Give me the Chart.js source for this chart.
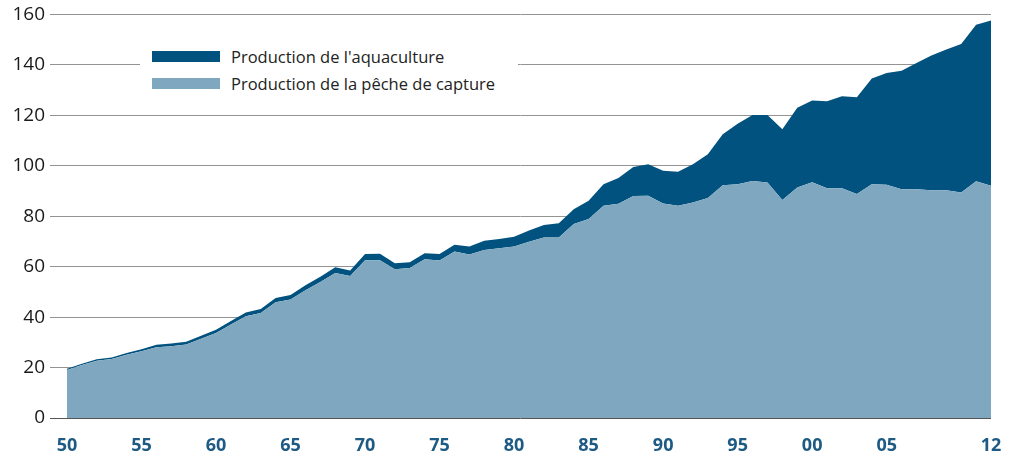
<!DOCTYPE html>
<html>
<head>
<meta charset="utf-8">
<script src="https://cdn.jsdelivr.net/npm/chart.js@4/dist/chart.umd.min.js"></script>
<style>
  body { margin: 0; background: #fff; }
  #wrap { position: relative; width: 1019px; height: 453px; }
  #legend {
    position: absolute; left: 140px; top: 40px; width: 378px; height: 56px;
    background: #fff; font-family: "Open Sans", sans-serif; font-size: 16.5px; color: #222;
  }
  .item { position: absolute; left: 12px; height: 20px; display: flex; align-items: center; }
  .swatch { width: 68px; height: 11px; margin-right: 11px; }
</style>
</head>
<body>
<div id="wrap">
  <canvas id="chart"></canvas>
  <div id="legend"></div>
</div>
<script>
const years = []
for (let y = 1950; y <= 2012; y++) years.push(y)

const tickYears = [1950, 1955, 1960, 1965, 1970, 1975, 1980, 1985, 1990, 1995, 2000, 2005, 2012]

const capture = [
    19.0, 21.0, 22.7, 23.4, 25.1, 26.5, 28.1, 28.5, 29.1, 31.4,
    33.7, 37.1, 40.3, 41.6, 45.9, 47.0, 50.7, 53.9, 57.5, 56.3,
    62.6, 62.6, 59.0, 59.5, 62.9, 62.5, 66.0, 64.8, 66.6, 67.3,
    68.0, 69.9, 71.6, 71.6, 76.9, 78.9, 84.2, 85.0, 88.0, 88.1,
    85.1, 84.2, 85.5, 87.2, 92.3, 92.7, 94.0, 93.4, 86.4, 91.4,
    93.5, 91.1, 91.1, 88.8, 92.7, 92.5, 90.7, 90.7, 90.3, 90.3,
    89.4, 93.9, 92.1
]

const aquaculture = [
    0.5, 0.5, 0.6, 0.6, 0.7, 0.8, 0.9, 1.0, 1.1, 1.2,
    1.3, 1.4, 1.5, 1.6, 1.7, 1.8, 1.9, 2.1, 2.3, 2.2,
    2.4, 2.5, 2.4, 2.3, 2.4, 2.5, 2.7, 3.2, 3.7, 3.7,
    3.9, 4.4, 4.9, 5.6, 5.9, 7.2, 8.5, 10.2, 11.5, 12.5,
    12.9, 13.4, 15.1, 17.4, 20.2, 24.0, 26.1, 26.7, 28.1, 31.6,
    32.4, 34.5, 36.5, 38.4, 41.9, 44.3, 47.0, 50.1, 53.4, 55.8,
    58.9, 62.0, 65.5
]

const captureLabel = 'Production de la pêche de capture'
const aquaLabel = "Production de l'aquaculture"
const captureColor = '#7fa8c0'
const aquaColor = '#02527f'

const toPoints = (values) => values.map((v, i) => ({x: years[i], y: v}))

const ctx = document.getElementById('chart').getContext('2d')
const chart = new Chart(ctx, {
    type: 'line',
    data: {
        datasets: [
            {label: captureLabel, data: toPoints(capture), backgroundColor: captureColor,
             borderWidth: 0, pointRadius: 0, fill: 'origin', tension: 0},
            {label: aquaLabel, data: toPoints(aquaculture), backgroundColor: aquaColor,
             borderWidth: 0, pointRadius: 0, fill: '-1', tension: 0}
        ]
    },
    options: {
        responsive: true,
        maintainAspectRatio: false,
        animation: false,
        layout: {padding: {top: 13, right: 28, left: 0, bottom: 0}},
        plugins: {legend: {display: false}, tooltip: {enabled: false}},
        scales: {
            x: {
                type: 'linear',
                min: 1948.86,
                max: 2012,
                grid: {display: false, drawTicks: false},
                border: {display: false},
                afterBuildTicks: (scale) => {
                    scale.ticks = tickYears.map(v => ({value: v}))
                },
                afterFit: (scale) => { scale.height = 35 },
                ticks: {
                    autoSkip: false,
                    maxRotation: 0,
                    padding: 17,
                    color: '#1d5a84',
                    font: {family: 'Open Sans', size: 18, weight: 'bold'},
                    callback: (v) => String(v % 100).padStart(2, '0')
                }
            },
            y: {
                stacked: true,
                min: 0,
                max: 160,
                border: {display: false},
                afterFit: (scale) => { scale.width = 50 },
                grid: {
                    drawTicks: false,
                    lineWidth: 1,
                    color: (c) => c.tick && c.tick.value === 0 ? '#555' : '#939393'
                },
                ticks: {
                    stepSize: 20,
                    padding: 5,
                    color: '#1a1a1a',
                    font: {family: 'Open Sans', size: 19, lineHeight: 1}
                }
            }
        }
    }
})

// legend, aquaculture on top
const legend = document.getElementById('legend')
const items = [[aquaLabel, aquaColor], [captureLabel, captureColor]]
items.forEach((item, i) => {
    const div = document.createElement('div')
    div.classList.add('item')
    div.style.top = (6 + i * 27) + 'px'
    const sw = document.createElement('span')
    sw.classList.add('swatch')
    sw.style.background = item[1]
    const txt = document.createElement('span')
    txt.textContent = item[0]
    div.appendChild(sw)
    div.appendChild(txt)
    legend.appendChild(div)
})
</script>
</body>
</html>
